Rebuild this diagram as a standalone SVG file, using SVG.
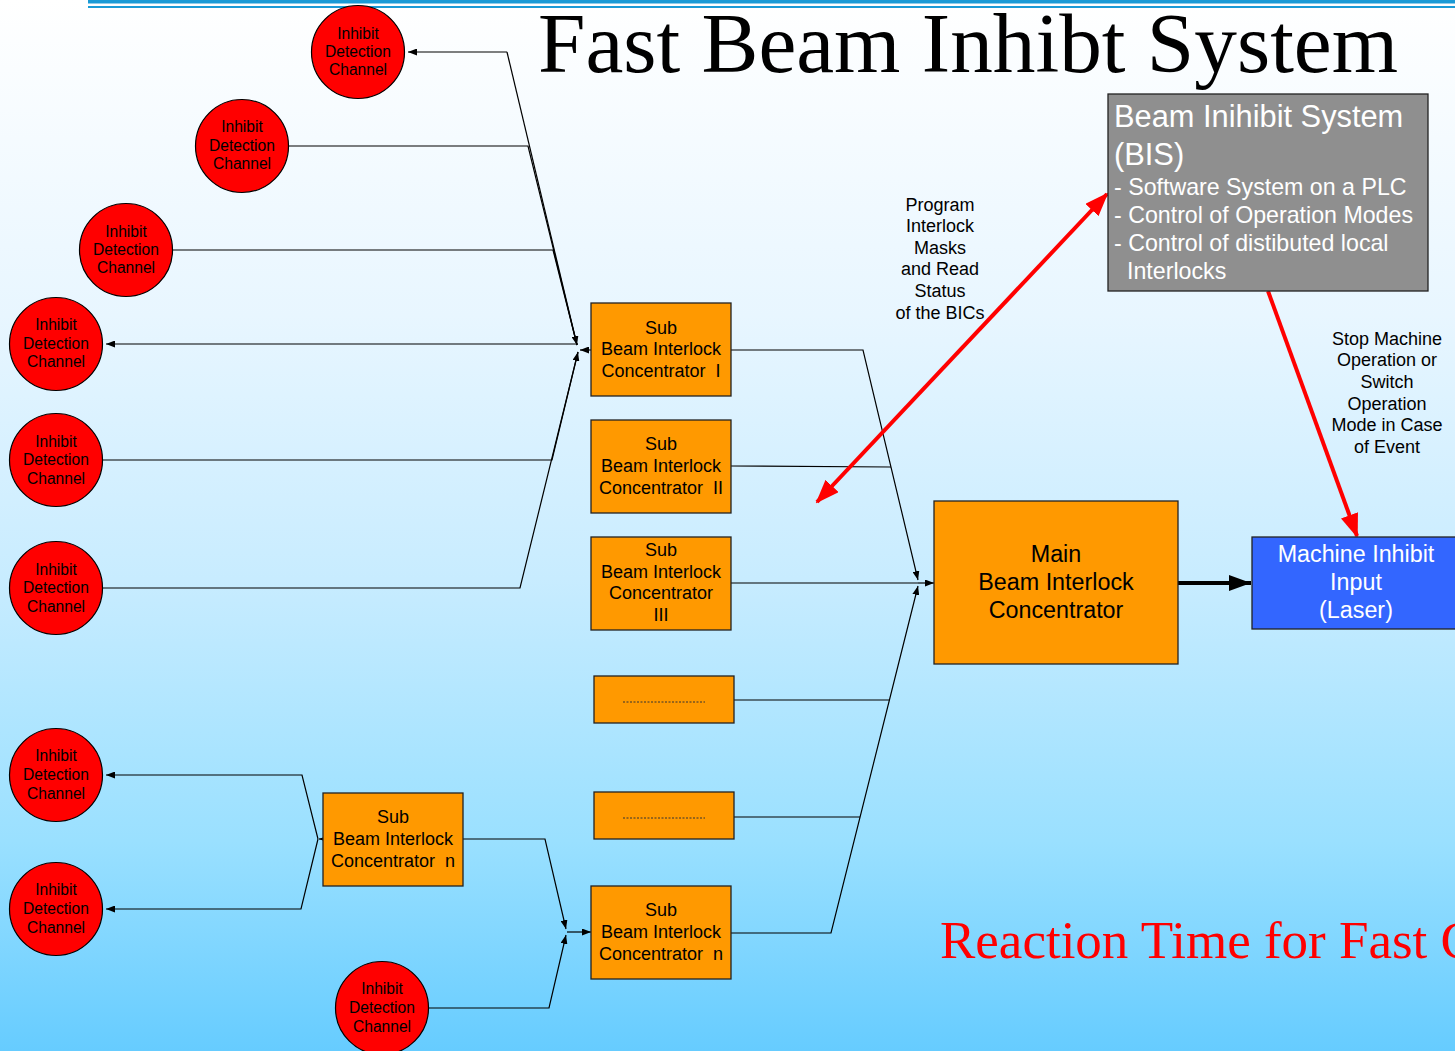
<svg xmlns="http://www.w3.org/2000/svg" width="1455" height="1051" viewBox="0 0 1455 1051">
<defs>
<linearGradient id="bg" x1="0" y1="0" x2="0" y2="1">
<stop offset="0" stop-color="#ffffff"/>
<stop offset="0.3" stop-color="#e8f6ff"/>
<stop offset="0.55" stop-color="#c8ecff"/>
<stop offset="0.8" stop-color="#9ae0ff"/>
<stop offset="1" stop-color="#66ccff"/>
</linearGradient>
<marker id="ah" markerWidth="9" markerHeight="7" refX="9" refY="3.5" orient="auto" markerUnits="userSpaceOnUse"><path d="M0,0 L9,3.5 L0,7 z" fill="#000"/></marker>
<marker id="ahr" markerWidth="24" markerHeight="18" refX="22" refY="9" orient="auto-start-reverse" markerUnits="userSpaceOnUse"><path d="M0,0 L24,9 L0,18 z" fill="#ff0000"/></marker>
<marker id="ahb" markerWidth="22" markerHeight="16" refX="22" refY="8" orient="auto" markerUnits="userSpaceOnUse"><path d="M0,0 L22,8 L0,16 z" fill="#000"/></marker>
</defs>
<style>
.circ{fill:#ff0000;stroke:#000;stroke-width:1.2}
.ct{font-family:"Liberation Sans",Arial,sans-serif;font-size:15.6px;fill:#000;text-anchor:middle}
.box{fill:#ff9900;stroke:#222;stroke-width:1.3}
.bt{font-family:"Liberation Sans",Arial,sans-serif;font-size:18px;fill:#000;text-anchor:middle}
.mt{font-family:"Liberation Sans",Arial,sans-serif;font-size:23.3px;text-anchor:middle}
.lbl{font-family:"Liberation Sans",Arial,sans-serif;font-size:18px;fill:#000;text-anchor:middle}
.ln{fill:none;stroke:#000;stroke-width:1.2}
.dot{stroke:#333;stroke-width:1;stroke-dasharray:2,1.5}
.bis{font-family:"Liberation Sans",Arial,sans-serif;fill:#fff}
</style>
<rect x="0" y="0" width="1455" height="1051" fill="url(#bg)"/>
<g id="header">
<rect x="88" y="0" width="1367" height="3.5" fill="#1a9ad6"/>
<rect x="88" y="6" width="1367" height="2" fill="#1a9ad6"/>
</g>
<text id="title" x="538" y="72" font-family="'Liberation Serif','Times New Roman',serif" font-size="85.3" fill="#000">Fast Beam Inhibt System</text>
<text id="reaction" x="940" y="958" font-family="'Liberation Serif','Times New Roman',serif" font-size="53" fill="#ff0000">Reaction Time for Fast C</text>

<g id="connectors">
<polyline class="ln" points="507,52 408,52" marker-end="url(#ah)"/>
<polyline class="ln" points="507,52 577,345" marker-end="url(#ah)"/>
<polyline class="ln" points="289,146 528,146 577,345"/>
<polyline class="ln" points="173,250 553,250 577,345"/>
<polyline class="ln" points="578,344 106,344" marker-end="url(#ah)"/>
<polyline class="ln" points="103,460 552,460 578,352"/>
<polyline class="ln" points="103,588 520,588 578,352" marker-end="url(#ah)"/>
<polyline class="ln" points="591,350 580,350" marker-end="url(#ah)"/>

<polyline class="ln" points="731,350 863,350 918,580" marker-end="url(#ah)"/>
<polyline class="ln" points="731,466 891,467"/>
<polyline class="ln" points="731,583 918,583"/>
<polyline class="ln" points="734,700 889,700"/>
<polyline class="ln" points="734,817 860,817"/>
<polyline class="ln" points="731,933 831,933 918,586" marker-end="url(#ah)"/>
<polyline class="ln" points="918,583 934,583" marker-end="url(#ah)"/>

<polyline class="ln" points="345,839 319,839" marker-end="url(#ah)"/>
<polyline class="ln" points="318,839 302,775 106,775" marker-end="url(#ah)"/>
<polyline class="ln" points="318,839 301,909 106,909" marker-end="url(#ah)"/>
<polyline class="ln" points="463,839 545,839 566,929" marker-end="url(#ah)"/>
<polyline class="ln" points="429,1008 549,1008 566,935" marker-end="url(#ah)"/>
<polyline class="ln" points="567,932 591,932" marker-end="url(#ah)"/>

<line x1="817" y1="502" x2="1107" y2="194" stroke="#ff0000" stroke-width="4" marker-start="url(#ahr)" marker-end="url(#ahr)"/>
<line x1="1268" y1="291" x2="1357" y2="536" stroke="#ff0000" stroke-width="4" marker-end="url(#ahr)"/>
<line x1="1178" y1="583" x2="1251" y2="583" stroke="#000" stroke-width="4" marker-end="url(#ahb)"/>
</g>

<g id="c1"><circle class="circ" cx="358" cy="52" r="46.5"/><text class="ct" x="358" y="39">Inhibit</text><text class="ct" x="358" y="57">Detection</text><text class="ct" x="358" y="75">Channel</text></g>
<g id="c2"><circle class="circ" cx="242" cy="146" r="46.5"/><text class="ct" x="242" y="132">Inhibit</text><text class="ct" x="242" y="151">Detection</text><text class="ct" x="242" y="169">Channel</text></g>
<g id="c3"><circle class="circ" cx="126" cy="250" r="46.5"/><text class="ct" x="126" y="237">Inhibit</text><text class="ct" x="126" y="255">Detection</text><text class="ct" x="126" y="273">Channel</text></g>
<g id="c4"><circle class="circ" cx="56" cy="344" r="46.5"/><text class="ct" x="56" y="330">Inhibit</text><text class="ct" x="56" y="349">Detection</text><text class="ct" x="56" y="367">Channel</text></g>
<g id="c5"><circle class="circ" cx="56" cy="460" r="46.5"/><text class="ct" x="56" y="447">Inhibit</text><text class="ct" x="56" y="465">Detection</text><text class="ct" x="56" y="484">Channel</text></g>
<g id="c6"><circle class="circ" cx="56" cy="588" r="46.5"/><text class="ct" x="56" y="575">Inhibit</text><text class="ct" x="56" y="593">Detection</text><text class="ct" x="56" y="612">Channel</text></g>
<g id="c7"><circle class="circ" cx="56" cy="775" r="46.5"/><text class="ct" x="56" y="761">Inhibit</text><text class="ct" x="56" y="780">Detection</text><text class="ct" x="56" y="799">Channel</text></g>
<g id="c8"><circle class="circ" cx="56" cy="909" r="46.5"/><text class="ct" x="56" y="895">Inhibit</text><text class="ct" x="56" y="914">Detection</text><text class="ct" x="56" y="933">Channel</text></g>
<g id="c9"><circle class="circ" cx="382" cy="1008" r="46.5"/><text class="ct" x="382" y="994">Inhibit</text><text class="ct" x="382" y="1013">Detection</text><text class="ct" x="382" y="1032">Channel</text></g>

<g id="sbic1"><rect class="box" x="591" y="303" width="140" height="93"/><text class="bt" x="661" y="334">Sub</text><text class="bt" x="661" y="355">Beam Interlock</text><text class="bt" x="661" y="377" xml:space="preserve">Concentrator  I</text></g>
<g id="sbic2"><rect class="box" x="591" y="420" width="140" height="93"/><text class="bt" x="661" y="450">Sub</text><text class="bt" x="661" y="472">Beam Interlock</text><text class="bt" x="661" y="494" xml:space="preserve">Concentrator  II</text></g>
<g id="sbic3"><rect class="box" x="591" y="537" width="140" height="93"/><text class="bt" x="661" y="556">Sub</text><text class="bt" x="661" y="578">Beam Interlock</text><text class="bt" x="661" y="599">Concentrator</text><text class="bt" x="661" y="621">III</text></g>
<g id="sbicd1"><rect class="box" x="594" y="676" width="140" height="47"/><line class="dot" x1="623" y1="702" x2="705" y2="702"/></g>
<g id="sbicd2"><rect class="box" x="594" y="792" width="140" height="47"/><line class="dot" x1="623" y1="818" x2="705" y2="818"/></g>
<g id="sbicn"><rect class="box" x="591" y="886" width="140" height="93"/><text class="bt" x="661" y="916">Sub</text><text class="bt" x="661" y="938">Beam Interlock</text><text class="bt" x="661" y="960" xml:space="preserve">Concentrator  n</text></g>
<g id="sbicn2"><rect class="box" x="323" y="793" width="140" height="93"/><text class="bt" x="393" y="823">Sub</text><text class="bt" x="393" y="845">Beam Interlock</text><text class="bt" x="393" y="867" xml:space="preserve">Concentrator  n</text></g>

<g id="mbic"><rect class="box" x="934" y="501" width="244" height="163"/><text class="mt" x="1056" y="562" fill="#000">Main</text><text class="mt" x="1056" y="590" fill="#000">Beam Interlock</text><text class="mt" x="1056" y="618" fill="#000">Concentrator</text></g>
<g id="mii"><rect x="1252" y="537" width="210" height="92" fill="#3366ff" stroke="#222" stroke-width="1.3"/><text class="mt" x="1356" y="562" fill="#fff">Machine Inhibit</text><text class="mt" x="1356" y="590" fill="#fff">Input</text><text class="mt" x="1356" y="618" fill="#fff">(Laser)</text></g>

<g id="bis"><rect x="1108" y="94" width="320" height="197" fill="#8f8f8f" stroke="#222" stroke-width="1.3"/>
<text class="bis" x="1114" y="127" font-size="30.8">Beam Inihibit System</text>
<text class="bis" x="1114" y="165" font-size="30.8">(BIS)</text>
<text class="bis" x="1114" y="195" font-size="23.2">- Software System on a PLC</text>
<text class="bis" x="1114" y="223" font-size="23.2">- Control of Operation Modes</text>
<text class="bis" x="1114" y="251" font-size="23.2">- Control of distibuted local</text>
<text class="bis" x="1127" y="279" font-size="23.2">Interlocks</text></g>

<g id="lbl1"><text class="lbl" x="940" y="211">Program</text><text class="lbl" x="940" y="232">Interlock</text><text class="lbl" x="940" y="254">Masks</text><text class="lbl" x="940" y="275">and Read</text><text class="lbl" x="940" y="297">Status</text><text class="lbl" x="940" y="319">of the BICs</text></g>
<g id="lbl2"><text class="lbl" x="1387" y="345">Stop Machine</text><text class="lbl" x="1387" y="366">Operation or</text><text class="lbl" x="1387" y="388">Switch</text><text class="lbl" x="1387" y="410">Operation</text><text class="lbl" x="1387" y="431">Mode in Case</text><text class="lbl" x="1387" y="453">of Event</text></g>
</svg>
